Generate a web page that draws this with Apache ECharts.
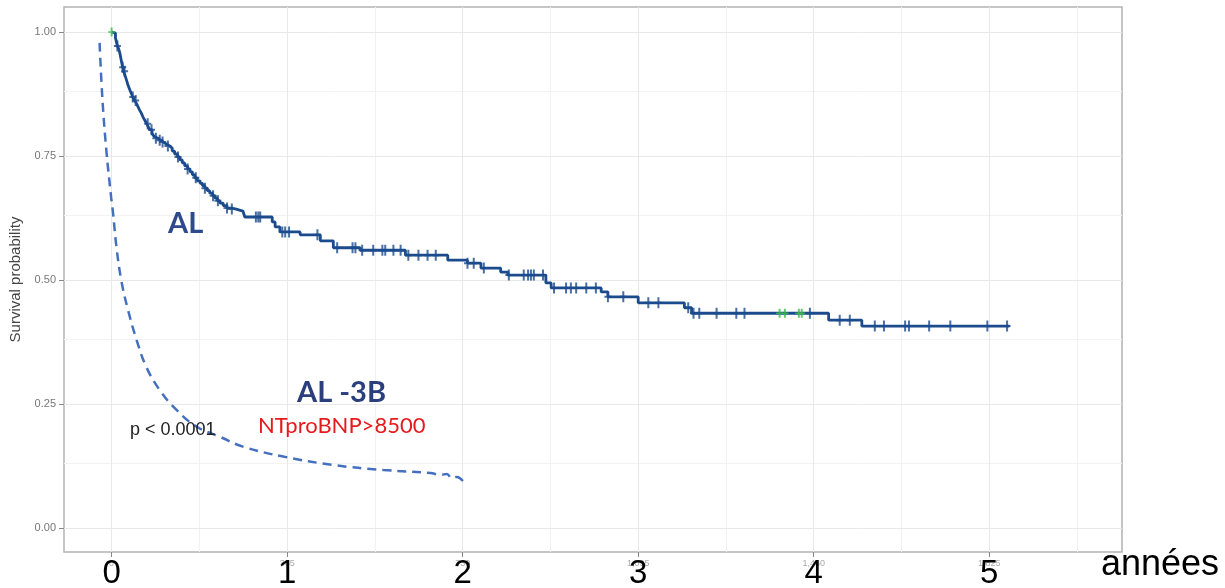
<!DOCTYPE html>
<html>
<head>
<meta charset="utf-8">
<script src="https://cdn.jsdelivr.net/npm/echarts@6/dist/echarts.min.js"></script>
<style>html,body{margin:0;padding:0;background:#fff;}#c{width:1225px;height:588px;}</style>
</head>
<body>
<div id="c"></div>
<script>
// ---- data (days, survival probability) ----
const alTimes = [0, 4, 8, 12, 15, 17, 19, 21, 23, 25, 28, 31, 34, 38, 41, 44, 48, 52, 55, 58, 62, 65, 69, 73, 76, 79, 84, 88, 92, 96, 102, 108, 114, 121, 126, 131, 137, 142, 147, 152, 158, 163, 168, 173, 178, 184, 189, 194, 199, 204, 210, 215, 220, 225, 232, 240, 250, 259, 266, 273, 277, 334, 340, 350, 392, 434, 461, 517, 611, 699, 740, 768, 809, 824, 903, 914, 1018, 1032, 1095, 1191, 1206, 1491, 1560, 1867];
const alSurv  = [1.000, 0.998, 0.988, 0.972, 0.965, 0.958, 0.948, 0.938, 0.929, 0.921, 0.912, 0.903, 0.893, 0.883, 0.876, 0.869, 0.862, 0.855, 0.849, 0.843, 0.836, 0.829, 0.822, 0.815, 0.809, 0.803, 0.796, 0.790, 0.786, 0.782, 0.778, 0.774, 0.770, 0.766, 0.760, 0.754, 0.748, 0.742, 0.736, 0.730, 0.724, 0.718, 0.712, 0.706, 0.700, 0.695, 0.690, 0.685, 0.680, 0.675, 0.670, 0.665, 0.660, 0.655, 0.650, 0.645, 0.643, 0.641, 0.639, 0.637, 0.627, 0.617, 0.607, 0.597, 0.591, 0.579, 0.565, 0.560, 0.550, 0.540, 0.534, 0.524, 0.516, 0.510, 0.494, 0.484, 0.476, 0.466, 0.454, 0.444, 0.433, 0.419, 0.407, 0.407];
const alCensorTimes = [12, 23, 27, 44, 50, 75, 83, 92, 100, 106, 117, 138, 158, 175, 194, 211, 221, 240, 250, 300, 305, 309, 355, 361, 369, 428, 469, 501, 507, 521, 544, 563, 569, 586, 601, 617, 638, 657, 674, 740, 753, 774, 826, 857, 866, 872, 878, 897, 920, 945, 955, 966, 987, 1007, 1032, 1064, 1116, 1137, 1199, 1210, 1222, 1258, 1299, 1316, 1452, 1514, 1535, 1587, 1606, 1650, 1658, 1700, 1744, 1821, 1862];
const alGreenCensorTimes = [0, 1389, 1400, 1429, 1435];
const al3bTimes = [-25, -19, -11, -1, 3, 10, 20, 34, 52, 72, 100, 135, 177, 225, 273, 357, 461, 565, 663, 684, 697, 707, 718, 732];
const al3bSurv  = [0.978, 0.863, 0.762, 0.667, 0.635, 0.567, 0.500, 0.440, 0.379, 0.325, 0.278, 0.238, 0.204, 0.184, 0.164, 0.144, 0.127, 0.117, 0.111, 0.107, 0.109, 0.101, 0.103, 0.093];
const xTickDays = [0, 365, 730, 1095, 1460, 1825];
const xYearLabels = ['0', '1', '2', '3', '4', '5'];
const xMinorDays = [182.5, 547.5, 912.5, 1277.5, 1642.5, 2007.5];
const yTickValues = [0, 0.25, 0.5, 0.75, 1];
const yMinorValues = [0.125, 0.375, 0.625, 0.875];

// ---- helpers ----
function survAt(t) {
  let s = alSurv[0];
  for (let i = 0; i < alTimes.length; i++) { if (alTimes[i] <= t) s = alSurv[i]; }
  return s;
}
const alData = alTimes.map((t, i) => [t, alSurv[i]]);
const al3bData = al3bTimes.map((t, i) => [t, al3bSurv[i]]);
const censorData = alCensorTimes.map(t => [t, survAt(t)]);
const greenData = alGreenCensorTimes.map(t => [t, survAt(t)]);
const plusPath = 'path://M2.5,0 H4.5 V4.5 H7 V6.5 H4.5 V11 H2.5 V6.5 H0 V4.5 H2.5 Z';

const chart = echarts.init(document.getElementById('c'), null, {renderer: 'canvas'});
const option = {
  animation: false,
  backgroundColor: '#ffffff',
  grid: {left: 64, right: 103, top: 7, bottom: 36, show: true, borderColor: '#b3b3b3', borderWidth: 1.5, backgroundColor: 'transparent', containLabel: false, outerBoundsMode: 'none'},
  xAxis: [{
    type: 'value', min: -99, max: 2101, position: 'bottom',
    axisLine: {show: false, onZero: false},
    axisTick: {show: true, length: 5, customValues: xTickDays, lineStyle: {color: '#888', width: 1}},
    axisLabel: {show: true, customValues: xTickDays, fontSize: 9, color: '#aaa', margin: 7, fontFamily: 'Liberation Sans'},
    splitLine: {show: false}
  }, {
    type: 'value', min: -99, max: 2101, position: 'bottom',
    axisLine: {show: false, onZero: false}, axisTick: {show: false}, splitLine: {show: false},
    axisLabel: {show: true, customValues: xTickDays, fontSize: 33, color: '#000', margin: 5, fontFamily: 'Liberation Sans',
      formatter: v => xYearLabels[xTickDays.indexOf(v)]}
  }],
  yAxis: {
    type: 'value', min: -0.0484, max: 1.0504, position: 'left',
    name: 'Survival probability', nameLocation: 'middle', nameGap: 38, nameRotate: 90,
    nameTextStyle: {fontSize: 15, color: '#444', fontFamily: 'Liberation Sans'},
    axisLine: {show: false, onZero: false},
    axisTick: {show: true, length: 5, customValues: yTickValues, lineStyle: {color: '#888'}},
    axisLabel: {show: true, customValues: yTickValues, fontSize: 11, color: '#777', margin: 8, fontFamily: 'Liberation Sans',
      formatter: v => v.toFixed(2)},
    splitLine: {show: false}
  },
  series: [
    {
      type: 'line', data: [], z: 0, silent: true,
      markLine: {
        z: 0, silent: true, symbol: 'none', label: {show: false}, animation: false,
        data: [
          ...xMinorDays.map(v => ({xAxis: v, lineStyle: {color: '#f2f2f2', width: 1, type: 'solid'}})),
          ...yMinorValues.map(v => ({yAxis: v, lineStyle: {color: '#f2f2f2', width: 1, type: 'solid'}})),
          ...xTickDays.map(v => ({xAxis: v, lineStyle: {color: '#e8e8e8', width: 1, type: 'solid'}})),
          ...yTickValues.map(v => ({yAxis: v, lineStyle: {color: '#e8e8e8', width: 1, type: 'solid'}}))
        ]
      }
    },
    {
      name: 'AL -3B', type: 'line', data: al3bData, smooth: 0.4, showSymbol: false, z: 3,
      lineStyle: {color: '#4470bf', width: 2.5, type: [9, 6]}
    },
    {
      name: 'AL', type: 'line', data: alData, step: 'end', showSymbol: false, z: 4,
      lineStyle: {color: '#1b4b8d', width: 2.8}
    },
    {
      type: 'scatter', data: censorData, symbol: plusPath, symbolSize: [7, 11], z: 5,
      itemStyle: {color: '#1b4b8d'}
    },
    {
      type: 'scatter', data: greenData, symbol: plusPath, symbolSize: [7, 9], z: 6,
      itemStyle: {color: '#3dbb4a'}
    }
  ],
  graphic: [
    {type: 'text', z: 20, left: 168, top: 209, style: {text: 'AL', font: 'bold 29px Lato', fill: '#2f4a8c'}},
    {type: 'text', z: 20, left: 297, top: 378, style: {text: 'AL -3B', font: 'bold 29px Lato', fill: '#2c3f7d'}},
    {type: 'text', z: 20, left: 258, top: 415, style: {text: 'NTproBNP>8500', font: '22px Lato', fill: '#e8191d'}},
    {type: 'text', z: 20, left: 130, top: 421, style: {text: 'p < 0.0001', font: '18px "Liberation Sans"', fill: '#222'}},
    {type: 'text', z: 20, left: 1101, top: 547, style: {text: 'années', font: '36px "Liberation Sans"', fill: '#000'}}
  ]
};
chart.setOption(option);
</script>
</body>
</html>
